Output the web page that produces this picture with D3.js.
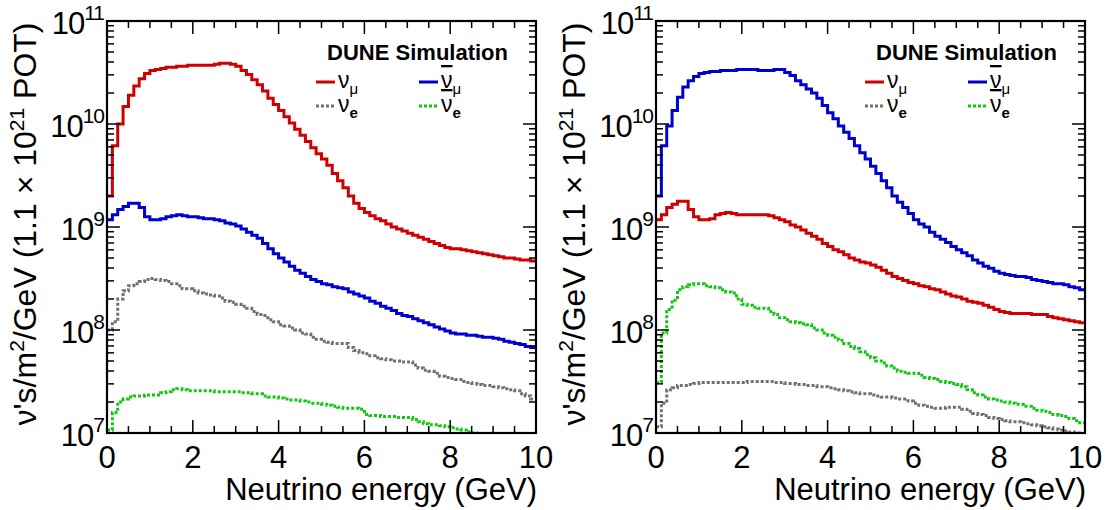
<!DOCTYPE html>
<html><head><meta charset="utf-8">
<script src="https://cdn.jsdelivr.net/npm/d3@7"></script>
<style>body{margin:0;background:#fff}text{font-family:"Liberation Sans",Arial,sans-serif}</style>
</head><body><svg id="c" width="1107" height="510"></svg>
<script>
const binWidth = 0.125; // GeV
const xTicks = [0,2,4,6,8,10];
const yTicks = [1e7,1e8,1e9,1e10,1e11];
const seriesNames = ["numu","numubar","nue","nuebar"];
// log10 of flux per bin, FHC (left)
const fhcNumu = [9.30,9.79,10.00,10.17,10.28,10.37,10.44,10.49,10.52,10.53,10.54,10.55,10.55,10.56,10.56,10.57,10.57,10.57,10.57,10.57,10.58,10.59,10.59,10.58,10.56,10.52,10.48,10.43,10.38,10.32,10.25,10.19,10.13,10.07,10.01,9.95,9.89,9.83,9.77,9.71,9.66,9.60,9.52,9.45,9.38,9.30,9.23,9.18,9.14,9.11,9.08,9.06,9.03,9.00,8.98,8.96,8.94,8.92,8.90,8.88,8.86,8.84,8.82,8.80,8.79,8.79,8.78,8.77,8.76,8.75,8.74,8.73,8.72,8.71,8.70,8.70,8.69,8.68,8.68,8.67];
const fhcNumubar = [9.07,9.12,9.17,9.20,9.23,9.23,9.19,9.10,9.07,9.07,9.08,9.10,9.11,9.12,9.11,9.10,9.10,9.09,9.08,9.08,9.07,9.06,9.04,9.03,9.01,8.98,8.95,8.92,8.89,8.84,8.79,8.74,8.70,8.66,8.62,8.58,8.55,8.52,8.49,8.47,8.45,8.44,8.42,8.41,8.40,8.37,8.35,8.33,8.31,8.28,8.26,8.23,8.21,8.19,8.16,8.14,8.13,8.11,8.09,8.07,8.05,8.03,8.01,7.99,7.97,7.96,7.96,7.95,7.95,7.94,7.93,7.93,7.92,7.91,7.89,7.88,7.87,7.86,7.84,7.83];
const fhcNue = [8.00,8.08,8.30,8.38,8.43,8.45,8.47,8.49,8.50,8.49,8.48,8.47,8.45,8.43,8.40,8.40,8.38,8.36,8.35,8.34,8.33,8.31,8.28,8.27,8.25,8.23,8.21,8.18,8.15,8.14,8.10,8.08,8.05,8.04,8.02,8.00,7.97,7.96,7.93,7.91,7.89,7.88,7.87,7.87,7.87,7.83,7.80,7.78,7.77,7.75,7.73,7.72,7.71,7.70,7.70,7.69,7.69,7.66,7.63,7.61,7.60,7.58,7.55,7.54,7.53,7.52,7.50,7.49,7.48,7.47,7.46,7.46,7.45,7.44,7.43,7.42,7.41,7.38,7.36,7.33];
const fhcNuebar = [7.03,7.20,7.30,7.33,7.35,7.36,7.36,7.37,7.37,7.37,7.39,7.40,7.42,7.43,7.42,7.41,7.41,7.41,7.41,7.41,7.40,7.40,7.40,7.40,7.40,7.39,7.39,7.38,7.38,7.36,7.35,7.35,7.34,7.33,7.32,7.32,7.31,7.30,7.29,7.29,7.28,7.27,7.26,7.25,7.24,7.24,7.24,7.23,7.18,7.17,7.17,7.16,7.16,7.16,7.15,7.15,7.15,7.13,7.11,7.09,7.08,7.08,7.07,7.06,7.05,7.04,7.03,7.01,7.00,6.99,6.99,6.98,6.98,6.98,6.97,6.97,6.96,6.96,6.95,6.95];
// RHC (right)
const rhcNumu = [9.07,9.12,9.19,9.22,9.25,9.25,9.17,9.10,9.07,9.07,9.08,9.12,9.13,9.14,9.13,9.12,9.12,9.12,9.12,9.12,9.12,9.11,9.09,9.07,9.05,9.02,9.00,8.97,8.94,8.91,8.88,8.84,8.81,8.78,8.76,8.73,8.70,8.68,8.66,8.65,8.63,8.61,8.58,8.55,8.52,8.50,8.48,8.46,8.45,8.43,8.42,8.40,8.39,8.37,8.35,8.33,8.32,8.30,8.28,8.27,8.26,8.24,8.22,8.20,8.18,8.17,8.16,8.16,8.16,8.16,8.15,8.15,8.15,8.13,8.12,8.11,8.10,8.09,8.08,8.07];
const rhcNumubar = [9.30,9.79,9.98,10.13,10.26,10.36,10.42,10.46,10.49,10.50,10.51,10.51,10.52,10.52,10.52,10.53,10.53,10.53,10.53,10.52,10.52,10.52,10.53,10.53,10.50,10.47,10.42,10.38,10.34,10.30,10.25,10.18,10.11,10.05,9.98,9.92,9.86,9.79,9.72,9.66,9.59,9.52,9.45,9.38,9.30,9.24,9.19,9.13,9.07,9.03,9.00,8.95,8.91,8.88,8.85,8.81,8.78,8.75,8.72,8.68,8.65,8.62,8.60,8.57,8.55,8.54,8.53,8.52,8.52,8.51,8.49,8.48,8.47,8.46,8.45,8.45,8.44,8.42,8.41,8.39];
const rhcNue = [7.06,7.29,7.42,7.44,7.46,7.46,7.47,7.48,7.49,7.49,7.49,7.49,7.49,7.49,7.49,7.49,7.49,7.50,7.50,7.50,7.50,7.50,7.49,7.49,7.48,7.48,7.47,7.47,7.46,7.46,7.45,7.45,7.44,7.43,7.42,7.41,7.40,7.39,7.38,7.38,7.37,7.36,7.35,7.35,7.34,7.33,7.33,7.31,7.29,7.27,7.26,7.25,7.24,7.24,7.25,7.25,7.25,7.23,7.21,7.19,7.18,7.17,7.15,7.14,7.13,7.12,7.11,7.11,7.10,7.09,7.08,7.07,7.06,7.05,7.04,7.03,7.02,7.01,7.00,6.99];
const rhcNuebar = [7.49,7.97,8.20,8.29,8.39,8.42,8.44,8.45,8.45,8.43,8.42,8.41,8.39,8.37,8.36,8.30,8.25,8.24,8.22,8.21,8.21,8.18,8.15,8.12,8.10,8.08,8.07,8.06,8.05,8.02,8.00,7.97,7.95,7.93,7.90,7.87,7.84,7.82,7.79,7.76,7.73,7.70,7.68,7.65,7.63,7.60,7.59,7.58,7.58,7.56,7.54,7.53,7.52,7.50,7.49,7.48,7.47,7.45,7.42,7.39,7.37,7.35,7.33,7.32,7.31,7.30,7.29,7.28,7.28,7.26,7.24,7.22,7.21,7.20,7.18,7.17,7.16,7.14,7.12,7.10];

const colors = {numu:"#d00000",numubar:"#0000d0",nue:"#707070",nuebar:"#10c810"};
const dashes = {numu:null,numubar:null,nue:"3,2",nuebar:"3,2"};
const panels = [
  {x0:107, data:{numu:fhcNumu,numubar:fhcNumubar,nue:fhcNue,nuebar:fhcNuebar}},
  {x0:656, data:{numu:rhcNumu,numubar:rhcNumubar,nue:rhcNue,nuebar:rhcNuebar}}
];
const svg = d3.select("#c");
const W = 429, yTop = 21, yBot = 433;

panels.forEach((p,pi)=>{
  const g = svg.append("g");
  const x = d3.scaleLinear().domain([0,10]).range([p.x0,p.x0+W]);
  const y = d3.scaleLog().domain([1e7,1e11]).range([yBot,yTop]);
  g.append("defs").append("clipPath").attr("id","cl"+pi).append("rect")
    .attr("x",p.x0).attr("y",yTop).attr("width",W).attr("height",yBot-yTop);
  seriesNames.forEach(s=>{
    const vals = p.data[s];
    const pts = [];
    vals.forEach((v,i)=>{ const val=Math.pow(10,v); pts.push([i*binWidth,val]); pts.push([(i+1)*binWidth,val]); });
    const line = d3.line().x(d=>x(d[0])).y(d=>y(d[1]));
    g.append("path").attr("d",line(pts)).attr("fill","none").attr("stroke",colors[s])
      .attr("stroke-width",3).attr("stroke-dasharray",dashes[s]).attr("clip-path",`url(#cl${pi})`);
  });
  const tk = g.append("g").attr("stroke","#000").attr("stroke-width",1.5);
  d3.range(0,10.01,0.5).forEach(v=>{
    const L = (Math.abs(v%2)<1e-6)?13:7;
    tk.append("line").attr("x1",x(v)).attr("x2",x(v)).attr("y1",yBot).attr("y2",yBot-L);
    tk.append("line").attr("x1",x(v)).attr("x2",x(v)).attr("y1",yTop).attr("y2",yTop+L);
  });
  for(let d=7; d<11; d++) for(let m=1;m<10;m++){
    const v = m*Math.pow(10,d); const L = m===1?13:7;
    tk.append("line").attr("x1",p.x0).attr("x2",p.x0+L).attr("y1",y(v)).attr("y2",y(v));
    tk.append("line").attr("x1",p.x0+W).attr("x2",p.x0+W-L).attr("y1",y(v)).attr("y2",y(v));
  }
  g.append("rect").attr("x",p.x0).attr("y",yTop).attr("width",W).attr("height",yBot-yTop)
    .attr("fill","none").attr("stroke","#000").attr("stroke-width",2.2);
  xTicks.forEach(v=>{
    g.append("text").attr("x",x(v)).attr("y",468).attr("text-anchor","middle").attr("font-size",31).text(v);
  });
  yTicks.forEach(v=>{
    const e = Math.round(Math.log10(v));
    const t = g.append("text").attr("x",p.x0-3).attr("y",y(v)+13).attr("text-anchor","end").attr("font-size",31).attr("letter-spacing",-1);
    t.append("tspan").text("10");
    t.append("tspan").attr("dy",-14).attr("font-size",21).text(e);
  });
  g.append("text").attr("x",p.x0+W+1).attr("y",500).attr("text-anchor","end").attr("font-size",31).text("Neutrino energy (GeV)");
  const yl = g.append("text").attr("transform",`translate(${p.x0-71},${(yTop+yBot)/2-3}) rotate(-90)`)
    .attr("text-anchor","middle").attr("font-size",32);
  yl.append("tspan").text("ν's/m");
  yl.append("tspan").attr("dy",-12).attr("font-size",21).text("2");
  yl.append("tspan").attr("dy",12).text("/GeV (1.1 × 10");
  yl.append("tspan").attr("dy",-12).attr("font-size",21).text("21");
  yl.append("tspan").attr("dy",12).text(" POT)");
  g.append("text").attr("x",p.x0+W-28).attr("y",60).attr("text-anchor","end").attr("font-size",22).attr("font-weight","bold").text("DUNE Simulation");
  const leg = [["numu",0,0,"μ",false],["numubar",1,0,"μ",true],["nue",0,1,"e",false],["nuebar",1,1,"e",true]];
  leg.forEach(([s,c,r,sub,bar])=>{
    const lx = p.x0+209+c*103, ly = 82+r*24;
    g.append("line").attr("x1",lx).attr("x2",lx+19).attr("y1",ly).attr("y2",ly).attr("stroke",colors[s]).attr("stroke-width",3).attr("stroke-dasharray",dashes[s]);
    const t = g.append("text").attr("x",lx+22).attr("y",ly+6).attr("font-size",23);
    t.append("tspan").attr("text-decoration",bar?"overline":null).text("ν");
    t.append("tspan").attr("dy",6).attr("font-size",15).attr("font-weight",sub==="e"?"bold":null).text(sub);
  });
});
</script></body></html>
